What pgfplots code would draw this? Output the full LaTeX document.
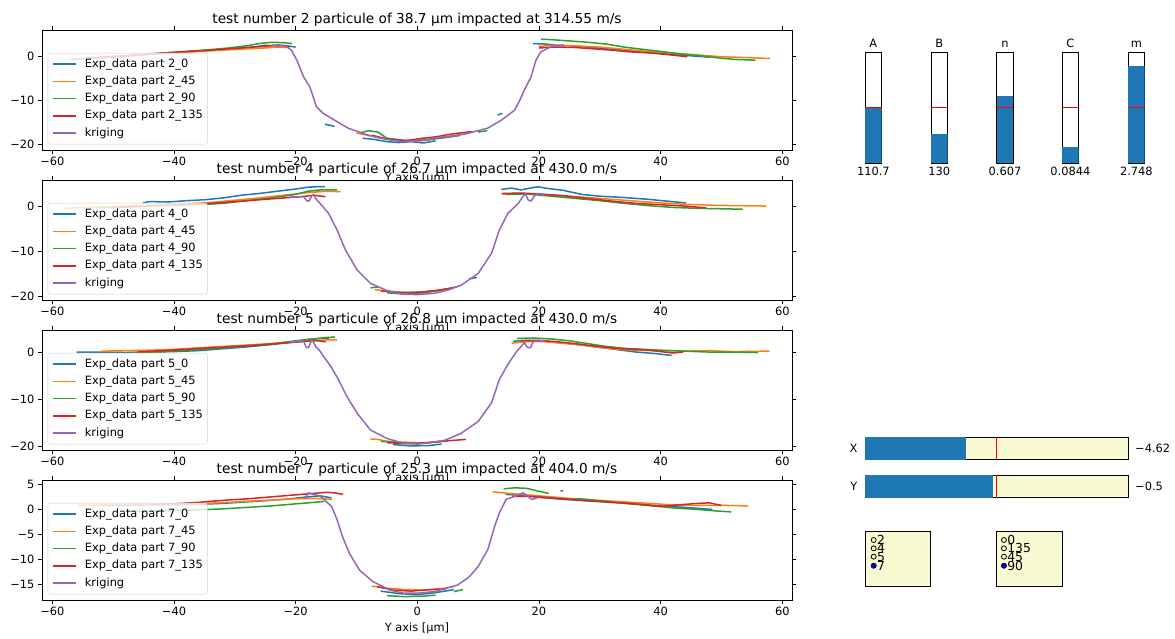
\documentclass[border=0pt]{standalone}
\usepackage{fontspec}
\setmainfont{DejaVu Sans}
\usepackage{pgfplots}
\pgfplotsset{compat=1.18}
\definecolor{tabblue}{HTML}{1F77B4}
\definecolor{taborange}{HTML}{FF7F0E}
\definecolor{tabgreen}{HTML}{2CA02C}
\definecolor{tabred}{HTML}{D62728}
\definecolor{tabpurple}{HTML}{9467BD}
\definecolor{lgy}{HTML}{FAFAD2}
\definecolor{radioblue}{HTML}{0A0AA0}
\newcommand\fs{\fontsize{11.4bp}{13bp}\selectfont}
\newcommand\fsr{\fontsize{12.4bp}{13bp}\selectfont}
\newcommand\fst{\fontsize{13.7bp}{16bp}\selectfont}
\pgfplotsset{
  prof/.style={
    scale only axis, width=750bp, height=120bp,
    xmin=-61.7, xmax=61.6,
    xtick={-60,-40,-20,0,20,40,60},
    xticklabels={−60,−40,−20,0,20,40,60},
    tick align=outside, major tick length=4bp,
    tick style={black, line width=0.9bp},
    axis line style={line width=0.9bp},
    tick label style={font=\fs},
    axis background/.style={fill=white},
    unbounded coords=jump,
    every axis title/.style={font=\fst, at={(0.5,1)}, anchor=base, yshift=6.5bp},
    xlabel={Y axis [µm]},
    every axis x label/.style={font=\fs, at={(0.5,0)}, anchor=base, yshift=-31bp},
    legend cell align=left,
    legend style={at={(0,0)}, anchor=south west, xshift=5.7bp, yshift=5.7bp,
      font=\fs, draw=black!18, rounded corners=2bp, fill=white, fill opacity=0.8, text opacity=1,
      inner xsep=4.5bp, inner ysep=5.4bp, row sep=6.3bp, column sep=8bp,
      nodes={inner sep=0bp, text height=8.5bp, text depth=2.5bp}},
    legend image code/.code={\draw[#1, line width=1.5bp] (0bp,0bp) -- (23bp,0bp);},
    every axis plot/.append style={line width=1.5bp, line join=round},
  },
  vsl/.style={
    scale only axis, width=16.7bp, height=111bp,
    xmin=0, xmax=1, ymin=0, ymax=1, xtick=\empty, ytick=\empty,
    axis line style={line width=0.9bp},
    axis background/.style={fill=white},
    every axis title/.style={font=\fs, at={(0.5,1)}, anchor=base, yshift=5bp},
    every axis x label/.style={font=\fs, at={(0.5,0)}, anchor=base, yshift=-11.7bp},
  },
  hsl/.style={
    scale only axis, width=263.3bp, height=22.5bp,
    xmin=-20, xmax=20, ymin=0, ymax=1, xtick=\empty, ytick=\empty,
    axis line style={line width=0.9bp}, clip=false,
    axis background/.style={fill=lgy},
  },
  rad/.style={
    scale only axis, width=65.7bp, height=55bp,
    xmin=0, xmax=1, ymin=0, ymax=1, xtick=\empty, ytick=\empty,
    axis line style={line width=0.9bp},
    axis background/.style={fill=lgy},
  },
}
\begin{document}
\begin{tikzpicture}
\path[use as bounding box] (0,0) rectangle (1175bp,-639bp);

% ---------------- test 2 ----------------
\begin{axis}[prof, at={(42bp,-30bp)}, anchor=north west,
  ymin=-21.3, ymax=6.1, ytick={-20,-10,0}, yticklabels={−20,−10,0},
  title={test number 2 particule of 38.7 µm impacted at 314.55 m/s},
  legend entries={Exp\_data part 2\_0, Exp\_data part 2\_45, Exp\_data part 2\_90, Exp\_data part 2\_135, kriging}]
\addplot[tabblue] coordinates {(-57,-0.6)(-54,-0.4)(-51,-0.2)(-48,0.2)(-45,0.5)(-42,0.8)(-39,1.0)(-36,1.3)(-33,1.6)(-30,1.9)(-27,2.2)(-25,2.6)(-23,2.5)(-21,2.4)(-20,2.2)
 (-18,nan)(-15.2,-15.4)(-13.6,-15.9)(-11,nan)(-9,-18.6)(-7,-18.9)(-5,-19.4)(-3,-19.6)(-1,-19.4)(1,-19.7)(3,-19.2)(8,nan)(13.2,-13.3)(14.0,-12.9)(16,nan)
 (19.0,3.0)(21,2.9)(23,2.6)(25,2.5)(28,2.2)(31,1.8)(34,1.5)(37,1.0)(40,0.8)(43,0.4)(46,0.1)(48,-0.1)};
\addplot[taborange] coordinates {(-56,-0.5)(-52,-0.2)(-48,0.1)(-44,0.5)(-40,0.8)(-36,1.2)(-32,1.5)(-28,1.8)(-25,2.0)(-23,2.2)(-21,2.1)
 (-15,nan)(-10,-17.4)(-8,-18.0)(-6,-18.6)(-3,-19.1)(0,-19.3)(2,-19.0)(4,-18.4)(6,-18.0)(8,-17.6)(12,nan)
 (20,2.4)(23,2.6)(26,2.5)(30,2.2)(34,1.7)(38,1.2)(42,0.8)(46,0.4)(50,0.0)(54,-0.2)(58,-0.4)};
\addplot[tabgreen] coordinates {(-55,-0.4)(-51,0.0)(-47,0.3)(-43,0.7)(-39,1.1)(-35,1.5)(-31,2.0)(-28,2.5)(-26,3.0)(-24,3.3)(-22,3.2)(-20.6,3.0)
 (-15,nan)(-9.5,-17.4)(-8,-16.9)(-6.5,-17.2)(-5,-18.6)(-2,-19.1)(1,-19.0)(4,-18.6)(7,-18.0)(8.5,nan)(10,-17.2)(11.5,-16.9)(15,nan)
 (20.3,4.0)(22,3.9)(25,3.6)(28,3.3)(31,2.9)(34,2.2)(37,1.7)(40,1.2)(43,0.7)(46,0.3)(49,-0.2)(52,-0.6)(55.6,-0.8)};
\addplot[tabred] coordinates {(-54,-0.3)(-50,0.0)(-46,0.4)(-42,0.8)(-38,1.2)(-34,1.5)(-30,1.9)(-27,2.2)(-24,2.5)(-22,2.6)(-21,2.3)
 (-15,nan)(-7.5,-17.9)(-5,-18.8)(-2,-19.2)(1,-18.6)(3,-18.3)(5,-17.8)(7,-17.4)(9,-17.1)(14,nan)
 (20,2.0)(23,2.2)(26,2.1)(29,1.8)(32,1.5)(35,1.1)(38,0.9)(41,0.5)(44.4,0.0)};
\addplot[tabpurple] coordinates {(-24,2.6)(-22.8,2.7)(-21.5,2.3)(-20.7,1.5)(-19.8,-0.8)(-18.7,-4.6)(-17.7,-6.8)(-17.1,-9.2)(-16.6,-11.4)(-15.5,-12.9)(-13.6,-14.5)(-11.4,-16.3)(-8.1,-17.9)(-5,-18.9)(-2.6,-19.4)(0,-19.2)(2.8,-18.6)(5.5,-18.2)(8.3,-17.5)(11.6,-16.3)(13.8,-14.5)(16,-12.2)(16.9,-9.8)(17.6,-7.6)(18.7,-4.6)(19.5,-0.8)(20.3,1.1)(22,2.3)(24.1,2.7)};
\end{axis}

% ---------------- test 4 ----------------
\begin{axis}[prof, at={(42bp,-180bp)}, anchor=north west,
  ymin=-20.9, ymax=5.8, ytick={-20,-10,0}, yticklabels={−20,−10,0},
  title={test number 4 particule of 26.7 µm impacted at 430.0 m/s},
  legend entries={Exp\_data part 4\_0, Exp\_data part 4\_45, Exp\_data part 4\_90, Exp\_data part 4\_135, kriging}]
\addplot[tabblue] coordinates {(-45.1,0.7)(-44,1.0)(-41,0.9)(-38,1.2)(-35,1.4)(-32,1.8)(-29,2.4)(-26,2.8)(-23,3.3)(-20,3.8)(-18,4.2)(-16.5,4.3)(-15.2,4.3)
 (-10,nan)(-2,-19.3)(1,-19.1)(3,-18.9)(6,nan)(8.5,-16.2)(9.8,-15.9)(12,nan)
 (13.8,3.7)(15.5,4.0)(17,3.6)(19.8,4.3)(21,4.0)(24,3.5)(27,2.6)(30,2.2)(34,1.9)(38,1.5)(41,1.1)(44.2,0.7)};
\addplot[taborange] coordinates {(-58.2,-0.5)(-54,-0.3)(-50,-0.1)(-46,0.1)(-42,0.3)(-38,0.5)(-34,0.8)(-30,1.3)(-26,1.8)(-22,2.4)(-18,3.0)(-15,3.3)(-12.6,3.2)
 (-10,nan)(-7,-18.6)(-4,-19.0)(-1,-19.4)(2,-19.0)(5,-18.4)(7,-17.8)(10,nan)
 (13.8,2.7)(17,2.8)(20,2.6)(24,2.3)(28,1.9)(32,1.5)(36,1.1)(40,0.7)(44,0.4)(48,0.2)(52,0.1)(57.4,0.0)};
\addplot[tabgreen] coordinates {(-52,-0.4)(-48,-0.2)(-44,0.0)(-40,0.2)(-36,0.3)(-32,0.6)(-28,1.2)(-24,1.8)(-20,2.6)(-18,3.3)(-16,3.6)(-13.2,3.6)
 (-10,nan)(-7.7,-18.2)(-6.5,-18.0)(-5.8,nan)(-5,-19.3)(-2,-19.6)(1,-19.3)(4,-18.7)(6,-18.1)(10,nan)
 (14.4,2.6)(18,2.7)(22,2.2)(26,1.7)(30,1.2)(34,0.6)(38,0.1)(42,-0.3)(46,-0.5)(50,-0.6)(53.5,-0.7)};
\addplot[tabred] coordinates {(-50,-0.3)(-46,-0.1)(-42,0.1)(-38,0.3)(-34,0.6)(-30,1.0)(-26,1.4)(-22,1.8)(-19,2.1)(-17,2.4)(-15.1,2.1)
 (-10,nan)(-6,-18.9)(-3,-19.2)(0,-19.2)(3,-18.8)(6,-18.2)(10,nan)
 (14.0,2.8)(17,2.9)(20,2.7)(24,2.3)(28,1.7)(32,1.1)(36,0.6)(40,0.3)(44,0.0)(47.5,-0.4)};
\addplot[tabpurple] coordinates {(-21,2.0)(-18.7,2.1)(-18.2,1.2)(-17.8,1.1)(-17.4,2.2)(-17.1,2.6)(-16.6,1.5)(-16,0.6)(-14.6,-1.6)(-13.2,-5.3)(-11.8,-9.8)(-9.9,-14.2)(-7.7,-17.2)(-5,-18.8)(-2.3,-19.6)(0,-19.7)(2.8,-19.4)(5,-18.7)(7.2,-17.6)(10,-15.0)(12.2,-10.5)(13.5,-5.3)(14.9,-1.6)(16.6,0.6)(17.4,2.2)(17.8,2.7)(18.2,1.4)(18.7,1.1)(19.2,2.2)(19.7,2.8)(21,2.6)};
\end{axis}

% ---------------- test 5 ----------------
\begin{axis}[prof, at={(42bp,-330bp)}, anchor=north west,
  ymin=-20.86, ymax=4.7, ytick={-20,-10,0}, yticklabels={−20,−10,0},
  title={test number 5 particule of 26.8 µm impacted at 430.0 m/s},
  legend entries={Exp\_data part 5\_0, Exp\_data part 5\_45, Exp\_data part 5\_90, Exp\_data part 5\_135, kriging}]
\addplot[tabblue] coordinates {(-56,0.0)(-52,0.0)(-48,-0.1)(-44,0.0)(-40,0.1)(-36,0.3)(-32,0.7)(-28,1.1)(-24,1.6)(-20,2.2)(-18,2.7)(-16,2.9)(-14.5,2.9)
 (-10,nan)(-4,-19.7)(-1,-20.0)(2,-19.9)(4,-19.6)(10,nan)
 (15.8,2.3)(18,2.5)(21,2.3)(24,1.9)(27,1.5)(30,1.0)(33,0.5)(36,0.0)(39,-0.3)(41,-0.6)(41.8,-0.7)};
\addplot[taborange] coordinates {(-52,0.2)(-48,0.3)(-44,0.4)(-40,0.6)(-36,0.9)(-32,1.2)(-28,1.5)(-24,1.8)(-20,2.2)(-17,2.4)(-15,2.6)(-13.2,2.6)
 (-10,nan)(-7.7,-18.5)(-6.5,-18.6)(-5,-19.0)(-2,-19.2)(1,-19.3)(4,-19.0)(10,nan)
 (15.5,1.9)(18,2.2)(21,2.2)(24,1.9)(27,1.5)(30,1.0)(33,0.6)(36,0.4)(40,0.3)(44,0.2)(48,0.3)(52,0.1)(57.9,0.2)};
\addplot[tabgreen] coordinates {(-47,-0.1)(-43,0.0)(-39,0.3)(-35,0.6)(-31,1.0)(-27,1.4)(-23,1.9)(-20,2.4)(-17,2.8)(-15,3.1)(-13.5,3.2)
 (-10,nan)(-6,-19.0)(-3,-19.3)(0,-19.5)(3,-19.2)(5,-18.9)(10,nan)
 (16.4,2.9)(19,3.0)(22,2.8)(25,2.4)(28,1.8)(31,1.2)(34,0.8)(37,0.6)(40,0.4)(44,0.2)(48,0.0)(52,0.0)(56,-0.1)};
\addplot[tabred] coordinates {(-46,0.0)(-42,0.3)(-38,0.6)(-34,0.9)(-30,1.2)(-26,1.5)(-22,1.9)(-19,2.2)(-17,2.5)(-15,2.2)
 (-10,nan)(-5,-19.3)(-2,-19.5)(1,-19.4)(4,-19.0)(6,-18.8)(8,-18.6)(12,nan)
 (17,2.4)(20,2.5)(23,2.2)(26,1.8)(29,1.3)(32,0.9)(35,0.6)(38,0.4)(40,0.1)(42,-0.2)(43.7,0.0)};
\addplot[tabpurple] coordinates {(-21,2.1)(-18.7,2.4)(-18.3,1.1)(-17.9,0.9)(-17.5,2.1)(-17.3,2.6)(-16.7,1.2)(-16,0.2)(-14.1,-3.3)(-13,-5.8)(-11.6,-9.4)(-9.9,-13.0)(-7.7,-16.6)(-5,-18.4)(-2.3,-19.4)(0,-19.6)(2.5,-19.2)(4.5,-18.8)(7.2,-17.3)(10,-14.8)(12.2,-10.8)(13.5,-5.8)(14.9,-2.6)(16.2,-0.1)(17.6,2.0)(18.1,1.0)(18.6,0.9)(19.1,2.3)(21,2.4)};
\end{axis}

% ---------------- test 7 ----------------
\begin{axis}[prof, at={(42bp,-480bp)}, anchor=north west,
  ymin=-18.07, ymax=5.86, ytick={-15,-10,-5,0,5}, yticklabels={−15,−10,−5,0,5},
  title={test number 7 particule of 25.3 µm impacted at 404.0 m/s},
  legend entries={Exp\_data part 7\_0, Exp\_data part 7\_45, Exp\_data part 7\_90, Exp\_data part 7\_135, kriging}]
\addplot[tabblue] coordinates {(-52,0.8)(-48,0.8)(-44,0.9)(-40,0.9)(-36,1.0)(-32,1.2)(-28,1.5)(-24,1.8)(-21,2.1)(-18,2.5)(-16,2.7)(-14.1,2.3)
 (-10,nan)(-6,-16.3)(-3,-16.8)(0,-17.0)(3,-16.6)(6,-16.0)(10,nan)
 (14.5,3.0)(17,2.8)(20,2.4)(24,2.0)(28,1.7)(32,1.4)(36,1.1)(40,0.7)(44,0.4)(48.5,0.0)};
\addplot[taborange] coordinates {(-55.8,0.8)(-51,0.9)(-47,1.0)(-43,1.0)(-39,1.1)(-35,1.2)(-31,1.4)(-27,1.7)(-23,1.9)(-20,2.1)(-17,2.2)(-14,2.0)
 (-10,nan)(-7.5,-15.3)(-5,-15.7)(-2,-16.0)(1,-16.1)(4,-15.8)(6,-15.4)(10,nan)
 (12.4,3.5)(15,3.2)(18,2.9)(22,2.5)(26,2.1)(30,1.8)(34,1.5)(38,1.2)(42,0.9)(46,0.8)(50,0.8)(54.4,0.7)};
\addplot[tabgreen] coordinates {(-48,-0.4)(-44,-0.3)(-40,-0.2)(-36,-0.1)(-32,0.1)(-28,0.4)(-24,0.7)(-20,1.1)(-17,1.4)(-15.3,1.6)
 (-10,nan)(-5,-17.2)(-2,-17.4)(1,-17.3)(3,-17.1)(4.5,nan)(6,-16.4)(7.5,-16.0)(10,nan)
 (14.2,4.1)(16,4.3)(18,4.2)(20,3.6)(21.6,3.2)(22.5,nan)(23.5,3.7)(24.0,3.7)(24.2,nan)
 (24.4,2.0)(27,2.1)(30,1.7)(34,1.2)(38,0.8)(42,0.3)(46,0.0)(49,-0.3)(51.6,-0.5)};
\addplot[tabred] coordinates {(-44,1.0)(-40,1.1)(-36,1.4)(-32,1.8)(-28,2.1)(-24,2.5)(-20,2.9)(-17,3.2)(-15,3.4)(-13.6,3.3)(-12.2,3.0)
 (-10,nan)(-6.6,-15.4)(-4,-16.1)(-1,-16.3)(2,-16.0)(4.6,-15.9)(10,nan)
 (15.6,2.6)(19,2.6)(23,2.2)(27,1.8)(31,1.5)(35,1.2)(38,0.8)(40,0.6)(43,0.9)(46,1.2)(48,1.3)(50,0.8)};
\addplot[tabpurple] coordinates {(-18.5,2.2)(-17.9,3.3)(-15.9,2.6)(-14.1,0.6)(-13.2,-2.0)(-12.3,-5.4)(-11.2,-8.7)(-9.5,-12.1)(-7.3,-14.4)(-4.5,-16.1)(-2.3,-16.7)(0,-16.7)(2.8,-16.4)(6.6,-15.1)(8.5,-13.5)(10,-11.4)(11.6,-8.0)(12.7,-3.4)(13.5,-0.7)(14.6,2.0)(16,2.6)(17.4,3.3)(18.8,2.0)(20,2.4)};
\end{axis}

% ---------------- vertical sliders ----------------
\begin{axis}[vsl, at={(865bp,-52.3bp)}, anchor=north west, title={A}, xlabel={110.7}]
\addplot[fill=tabblue, draw=none] coordinates {(0,0.505)(1,0.505)} \closedcycle;
\addplot[red, line width=1bp] coordinates {(0,0.5)(1,0.5)};
\end{axis}
\begin{axis}[vsl, at={(931bp,-52.3bp)}, anchor=north west, title={B}, xlabel={130}]
\addplot[fill=tabblue, draw=none] coordinates {(0,0.264)(1,0.264)} \closedcycle;
\addplot[red, line width=1bp] coordinates {(0,0.5)(1,0.5)};
\end{axis}
\begin{axis}[vsl, at={(996.7bp,-52.3bp)}, anchor=north west, title={n}, xlabel={0.607}]
\addplot[fill=tabblue, draw=none] coordinates {(0,0.609)(1,0.609)} \closedcycle;
\addplot[red, line width=1bp] coordinates {(0,0.5)(1,0.5)};
\end{axis}
\begin{axis}[vsl, at={(1062bp,-52.3bp)}, anchor=north west, title={C}, xlabel={0.0844}]
\addplot[fill=tabblue, draw=none] coordinates {(0,0.144)(1,0.144)} \closedcycle;
\addplot[red, line width=1bp] coordinates {(0,0.5)(1,0.5)};
\end{axis}
\begin{axis}[vsl, at={(1128bp,-52.3bp)}, anchor=north west, title={m}, xlabel={2.748}]
\addplot[fill=tabblue, draw=none] coordinates {(0,0.879)(1,0.879)} \closedcycle;
\addplot[red, line width=1bp] coordinates {(0,0.5)(1,0.5)};
\end{axis}

% ---------------- horizontal sliders ----------------
\begin{axis}[hsl, at={(865bp,-437.3bp)}, anchor=north west]
\addplot[fill=tabblue, draw=none] coordinates {(-20,1)(-4.62,1)} \closedcycle;
\addplot[red, line width=1bp] coordinates {(0,0)(0,1)};
\node[anchor=east, font=\fs, inner sep=0pt] at (rel axis cs:0,0.5) [xshift=-7.5bp] {X};
\node[anchor=west, font=\fs, inner sep=0pt] at (rel axis cs:1,0.5) [xshift=6.7bp] {−4.62};
\end{axis}
\begin{axis}[hsl, at={(865bp,-475bp)}, anchor=north west]
\addplot[fill=tabblue, draw=none] coordinates {(-20,1)(-0.5,1)} \closedcycle;
\addplot[red, line width=1bp] coordinates {(0,0)(0,1)};
\node[anchor=east, font=\fs, inner sep=0pt] at (rel axis cs:0,0.5) [xshift=-7.5bp] {Y};
\node[anchor=west, font=\fs, inner sep=0pt] at (rel axis cs:1,0.5) [xshift=6.7bp] {−0.5};
\end{axis}

% ---------------- radio buttons ----------------
\begin{axis}[rad, at={(865bp,-531bp)}, anchor=north west]
\addplot[only marks, mark=o, mark size=2.5bp, black, mark options={line width=0.8bp},
  nodes near coords, point meta=explicit symbolic,
  nodes near coords style={anchor=west, font=\fsr, inner sep=0pt, xshift=3bp, text=black}]
  table[meta=label, row sep=\\] {x y label\\ 0.132 0.836 2\\ 0.132 0.685 4\\ 0.132 0.533 5\\ 0.132 0.369 7\\};
\addplot[only marks, mark=*, mark size=2.5bp, radioblue, mark options={fill=radioblue}] coordinates {(0.132,0.369)};
\end{axis}
\begin{axis}[rad, at={(996.7bp,-531bp)}, anchor=north west]
\addplot[only marks, mark=o, mark size=2.5bp, black, mark options={line width=0.8bp},
  nodes near coords, point meta=explicit symbolic,
  nodes near coords style={anchor=west, font=\fsr, inner sep=0pt, xshift=3bp, text=black}]
  table[meta=label, row sep=\\] {x y label\\ 0.11 0.836 0\\ 0.11 0.685 135\\ 0.11 0.533 45\\ 0.11 0.369 90\\};
\addplot[only marks, mark=*, mark size=2.5bp, radioblue, mark options={fill=radioblue}] coordinates {(0.11,0.369)};
\end{axis}
\end{tikzpicture}
\end{document}
